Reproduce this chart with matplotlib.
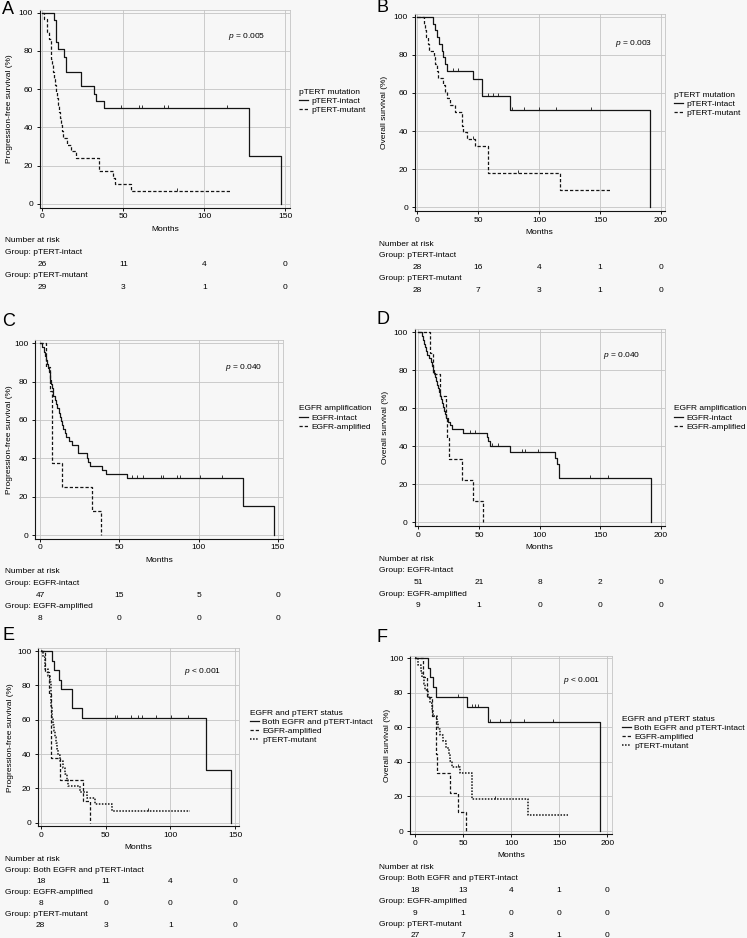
import numpy as np
import matplotlib
matplotlib.use("Agg")
import matplotlib.pyplot as plt
from matplotlib.path import Path
from matplotlib.transforms import blended_transform_factory

plt.rcParams["font.family"] = ["Liberation Sans", "DejaVu Sans"]
plt.rcParams["font.size"] = 6
plt.rcParams["mathtext.fontset"] = "custom"
plt.rcParams["mathtext.it"] = "Liberation Sans:italic"
plt.rcParams["mathtext.rm"] = "Liberation Sans"

# ---------------- data (months, survival %) ----------------
# A: progression-free survival by pTERT
a_int_t = [0, 7.4, 8.5, 9.9, 13.4, 14.6, 23.7, 32.1, 33.1, 38.1, 127.8, 147.3]
a_int_s = [100, 96.2, 84.6, 80.8, 76.9, 69.2, 61.5, 57.7, 53.8, 50.0, 25.0, 0]
a_int_c = [48.6, 59.9, 61.7, 75.3, 77.4, 113.8]
a_mut_t = [0, 1.2, 2.7, 4.3, 5.2, 5.6, 6.0, 6.4, 7.0, 7.6, 8.2, 8.8, 9.4, 10.0, 10.8, 11.6,
           12.2, 13.0, 15.0, 17.9, 20.8, 35.2, 43.6, 45.0, 54.7, 115.8]
a_mut_s = [100, 96.6, 89.7, 86.2, 82.8, 75.9, 72.4, 69.0, 65.5, 62.1, 58.6, 55.2, 51.7, 48.3, 44.8, 41.4,
           37.9, 34.5, 31.0, 27.6, 24.1, 17.2, 13.8, 10.3, 6.9, 6.9]
a_mut_c = [83.0]

# B: overall survival by pTERT
b_int_t = [0, 13.1, 14.5, 16.1, 17.8, 19.9, 21.3, 22.7, 24.0, 45.9, 53.3, 76.0, 191.0]
b_int_s = [100, 96.4, 92.9, 89.3, 85.7, 82.1, 78.6, 75.0, 71.4, 67.3, 58.3, 51.0, 0]
b_int_c = [29.5, 33.6, 58.0, 62.0, 66.0, 78.0, 88.0, 100.0, 113.7, 143.0]
b_mut_t = [0, 5.7, 6.3, 7.5, 8.5, 9.6, 13.4, 14.8, 16.0, 17.2, 21.3, 22.7, 24.6, 26.8, 30.9, 36.3,
           37.0, 37.6, 40.4, 47.3, 58.2, 117.5, 158.0]
b_mut_s = [100, 96.4, 92.9, 89.3, 85.7, 82.1, 78.6, 75.0, 71.4, 67.9, 64.3, 60.7, 57.1, 53.6, 50.0, 46.4,
           42.9, 39.3, 35.7, 31.9, 18.2, 9.1, 9.1]
b_mut_c = [45.9, 82.8]

# C: progression-free survival by EGFR
c_int_t = [0, 1.0, 2.5, 3.2, 3.8, 4.4, 5.0, 5.5, 6.0, 6.4, 6.9, 7.4, 7.9, 8.4, 9.5, 10.2, 10.9, 11.8,
           12.6, 13.3, 14.0, 14.7, 15.6, 16.6, 18.5, 20.2, 24.2, 29.8, 30.5, 31.5, 38.9, 41.6, 54.6,
           128.0, 147.5]
c_int_s = [100, 97.9, 95.7, 93.6, 91.5, 89.4, 87.2, 85.1, 83.0, 80.9, 78.7, 76.6, 74.5, 72.3, 70.2, 68.1,
           66.0, 63.8, 61.7, 59.6, 57.4, 55.3, 53.2, 51.1, 48.9, 46.8, 42.6, 40.4, 38.3, 36.2, 34.0, 31.9,
           29.8, 14.9, 0]
c_int_c = [57.8, 60.9, 65.1, 76.3, 77.7, 86.1, 88.2, 100.8, 114.5]
c_amp_t = [0, 3.6, 6.3, 7.8, 13.7, 33.0, 38.2]
c_amp_s = [100, 87.5, 75.0, 37.5, 25.0, 12.5, 0]
c_amp_c = []

# D: overall survival by EGFR
d_int_t = [0, 2.7, 3.6, 4.7, 5.5, 6.6, 7.4, 8.8, 10.2, 11.5, 12.4, 13.2, 14.0, 14.8, 15.7, 16.5, 17.2,
           17.9, 18.6, 19.2, 20.2, 21.2, 21.9, 22.5, 24.7, 26.0, 28.0, 37.1, 56.3, 57.7, 59.0, 75.5,
           112.6, 114.0, 116.2, 191.8]
d_int_s = [100, 98.0, 96.1, 94.1, 92.2, 90.2, 88.2, 86.3, 84.3, 82.4, 80.4, 78.4, 76.5, 74.5, 72.5, 70.6,
           68.6, 66.7, 64.7, 62.7, 60.8, 58.8, 56.9, 54.9, 52.9, 51.0, 49.0, 47.0, 44.9, 42.8, 40.1, 37.1,
           34.0, 30.9, 23.2, 0]
d_int_c = [42.6, 46.7, 61.0, 65.4, 85.2, 87.9, 98.9, 141.5, 156.6]
d_amp_t = [0, 9.6, 12.4, 17.9, 22.8, 23.5, 25.3, 36.3, 45.3, 53.6]
d_amp_s = [100, 88.9, 77.8, 66.7, 55.6, 44.4, 33.3, 22.2, 11.1, 0]
d_amp_c = []

# E: progression-free survival by combined status
e_both_t = [0, 8.5, 10.5, 14.4, 15.4, 23.8, 31.5, 127.7, 146.9]
e_both_s = [100, 94.4, 88.9, 83.3, 77.8, 66.7, 61.1, 30.6, 0]
e_both_c = [57.2, 59.0, 70.0, 75.1, 78.2, 88.7, 100.8, 113.6]
e_amp_t = [0, 3.6, 6.3, 7.7, 14.9, 32.8, 38.0]
e_amp_s = [100, 87.5, 75.0, 37.5, 25.0, 12.5, 0]
e_amp_c = []
e_mut_t = [0, 1.5, 3.3, 6.0, 7.0, 7.7, 8.3, 9.0, 9.6, 10.3, 11.0, 11.8, 12.6, 13.6, 14.9, 16.9, 18.7,
           20.2, 21.3, 30.3, 35.4, 41.8, 54.6, 114.9]
e_mut_s = [100, 96.4, 89.3, 85.7, 82.1, 75.0, 67.9, 60.7, 57.1, 53.6, 50.0, 46.4, 42.9, 39.3, 35.7, 32.1,
           28.6, 25.0, 21.4, 17.9, 14.3, 10.7, 7.1, 7.1]
e_mut_c = [82.8]

# F: overall survival by combined status
f_both_t = [0, 13.9, 15.6, 19.1, 21.8, 53.7, 76.3, 192.0]
f_both_s = [100, 94.4, 88.9, 83.3, 77.8, 71.6, 62.9, 0]
f_both_c = [44.8, 58.9, 62.4, 65.9, 78.0, 88.4, 98.8, 113.7, 143.8]
f_amp_t = [0, 8.6, 12.0, 17.2, 21.5, 22.0, 22.4, 36.2, 44.8, 53.4]
f_amp_s = [100, 88.9, 77.8, 66.7, 55.6, 44.4, 33.3, 22.2, 11.1, 0]
f_amp_c = []
f_mut_t = [0, 3.4, 6.0, 7.5, 9.0, 10.5, 13.9, 16.0, 17.5, 19.1, 22.5, 24.3, 26.0, 28.9, 31.8, 35.5,
           36.5, 38.5, 46.8, 58.9, 117.9, 159.4]
f_mut_s = [100, 96.3, 92.6, 88.9, 85.2, 81.5, 77.8, 74.1, 70.4, 66.7, 63.0, 59.3, 55.6, 51.9, 48.1, 44.4,
           40.7, 37.0, 33.3, 18.5, 9.3, 9.3]
f_mut_c = [44.4, 83.2]

# number at risk tables
ticks150 = [0, 50, 100, 150]
ticks200 = [0, 50, 100, 150, 200]
pterm_groups = ["pTERT-intact", "pTERT-mutant"]
egfr_groups = ["EGFR-intact", "EGFR-amplified"]
combo_groups = ["Both EGFR and pTERT-intact", "EGFR-amplified", "pTERT-mutant"]
a_risk = [[26, 11, 4, 0], [29, 3, 1, 0]]
b_risk = [[28, 16, 4, 1, 0], [28, 7, 3, 1, 0]]
c_risk = [[47, 15, 5, 0], [8, 0, 0, 0]]
d_risk = [[51, 21, 8, 2, 0], [9, 1, 0, 0, 0]]
e_risk = [[18, 11, 4, 0], [8, 0, 0, 0], [28, 3, 1, 0]]
f_risk = [[18, 13, 4, 1, 0], [9, 1, 0, 0, 0], [27, 7, 3, 1, 0]]

# ---------------- figure ----------------
W, H = 747, 938
BG = "#f7f7f7"
GRID = "#c4c4c4"
INK = "#141414"
fig = plt.figure(figsize=(W / 100, H / 100), dpi=100, facecolor=BG)

CENSOR = Path([(0, 0), (0, 1)])   # short upward tick
STYLES = {"solid": "-", "dashed": (0, (2.6, 1.6)), "dotted": (0, (1.0, 1.0))}
PFS = "Progression-free survival (%)"
OS = "Overall survival (%)"


def fy(ypx):
    return 1 - ypx / H


def make_panel(x0, sx, y0, sy, xlim, xticks):
    # x0/y0 = pixel of data zero, sx/sy = pixels per unit
    ylim = (-2, 101.5)
    left, right = x0 + xlim[0] * sx, x0 + xlim[1] * sx
    top, bottom = y0 - ylim[1] * sy, y0 - ylim[0] * sy
    ax = fig.add_axes([left / W, 1 - bottom / H, (right - left) / W, (bottom - top) / H])
    ax.set_facecolor(BG)
    ax.set_xlim(*xlim)
    ax.set_ylim(*ylim)
    ax.set_xticks(xticks)
    ax.set_yticks(range(0, 101, 20))
    ax.grid(True, color=GRID, lw=0.6)
    ax.set_axisbelow(True)
    for side in ("top", "right"):
        ax.spines[side].set_color(GRID)
        ax.spines[side].set_linewidth(0.6)
    for side in ("left", "bottom"):
        ax.spines[side].set_color(INK)
        ax.spines[side].set_linewidth(0.8)
    ax.tick_params(length=2.5, width=0.7, color=INK, labelsize=6, pad=1.5)
    ax.tick_params(axis="y", pad=2.5)
    ax.geom = (left, top, right - left, bottom - top)
    return ax


def km(ax, t, s, cens, style):
    lw = 1.1 if style == "dotted" else 0.9
    line, = ax.step(t, s, where="post", color=INK, lw=lw, linestyle=STYLES[style])
    if cens:
        t, s = np.asarray(t), np.asarray(s)
        cy = s[np.searchsorted(t, cens, side="right") - 1]
        ax.plot(cens, cy, ls="none", marker=CENSOR, ms=5, mec=INK, mew=0.6)
    return line


def labels(ax, ylabel, ylab_x, letter, lx, ly, ptext, pxy):
    left, top, w, h = ax.geom
    ax.set_xlabel("Months", fontsize=6)
    ax.xaxis.set_label_coords(0.5, -21.5 / h)
    ax.xaxis.label.set_va("center")
    ax.set_ylabel(ylabel, fontsize=6)
    ax.yaxis.set_label_coords((ylab_x - left) / w, 0.5)
    ax.yaxis.label.set_va("center")
    fig.text(lx / W, fy(ly), letter, fontsize=13, ha="left", va="center")
    ax.text(pxy[0], pxy[1], r"$p$ " + ptext, ha="left", va="center", fontsize=6)


def legend(ax, lines, names, title, lx, ly):
    ax.legend(lines, names, title=title, loc="upper left",
              bbox_to_anchor=(lx / W, fy(ly - 4.5)), bbox_transform=fig.transFigure,
              frameon=False, fontsize=6, title_fontsize=6, alignment="left",
              borderpad=0, borderaxespad=0, handlelength=1.1, handletextpad=0.4,
              labelspacing=0.15)


def risk_table(ax, gx, groups, counts, ticks, step):
    left, top, w, h = ax.geom
    ybot = top + h
    tr = blended_transform_factory(ax.transData, fig.transFigure)
    fig.text(gx / W, fy(ybot + 33), "Number at risk", va="center", fontsize=6)
    for i, (g, row) in enumerate(zip(groups, counts)):
        yg = ybot + 33 + step * (2 * i + 1)
        fig.text(gx / W, fy(yg), "Group: " + g, va="center", fontsize=6)
        for x, n in zip(ticks, row):
            ax.text(x, fy(yg + step), str(n), transform=tr, ha="center", va="center",
                    fontsize=6, clip_on=False)


# A
ax = make_panel(42.3, 1.62, 204.0, 1.913, (-1.5, 153), ticks150)
l1 = km(ax, a_int_t, a_int_s, a_int_c, "solid")
l2 = km(ax, a_mut_t, a_mut_s, a_mut_c, "dashed")
labels(ax, PFS, 10, "A", 2, 10, "= 0.005", (114.6, 87.3))
legend(ax, [l1, l2], pterm_groups, "pTERT mutation", 299, 93.3)
risk_table(ax, 5, pterm_groups, a_risk, ticks150, 11.7)

# B
ax = make_panel(417.3, 1.218, 207.3, 1.906, (-2, 203), ticks200)
l1 = km(ax, b_int_t, b_int_s, b_int_c, "solid")
l2 = km(ax, b_mut_t, b_mut_s, b_mut_c, "dashed")
labels(ax, OS, 385, "B", 377, 8, "= 0.003", (162, 86.2))
legend(ax, [l1, l2], pterm_groups, "pTERT mutation", 674, 96.5)
risk_table(ax, 379, pterm_groups, b_risk, ticks200, 11.6)

# C
ax = make_panel(40.0, 1.586, 535.0, 1.917, (-3, 153), ticks150)
l1 = km(ax, c_int_t, c_int_s, c_int_c, "solid")
l2 = km(ax, c_amp_t, c_amp_s, c_amp_c, "dashed")
labels(ax, PFS, 10, "C", 2, 322, "= 0.040", (116.6, 87.6))
legend(ax, [l1, l2], egfr_groups, "EGFR amplification", 299, 410)
risk_table(ax, 5, egfr_groups, c_risk, ticks150, 11.7)

# D
ax = make_panel(418.3, 1.213, 522.3, 1.90, (-3, 203), ticks200)
l1 = km(ax, d_int_t, d_int_s, d_int_c, "solid")
l2 = km(ax, d_amp_t, d_amp_s, d_amp_c, "dashed")
labels(ax, OS, 385, "D", 377, 320, "= 0.040", (152, 88))
legend(ax, [l1, l2], egfr_groups, "EGFR amplification", 674, 410)
risk_table(ax, 379, egfr_groups, d_risk, ticks200, 11.7)

# E
ax = make_panel(40.7, 1.297, 822.7, 1.717, (-2, 153), ticks150)
l1 = km(ax, e_both_t, e_both_s, e_both_c, "solid")
l2 = km(ax, e_amp_t, e_amp_s, e_amp_c, "dashed")
l3 = km(ax, e_mut_t, e_mut_s, e_mut_c, "dotted")
labels(ax, PFS, 11, "E", 2, 635, "< 0.001", (110.5, 87.8))
legend(ax, [l1, l2, l3], combo_groups, "EGFR and pTERT status", 250, 714)
risk_table(ax, 5, combo_groups, e_risk, ticks150, 11.1)

# F
ax = make_panel(415.0, 0.961, 831.0, 1.727, (-5, 205), ticks200)
l1 = km(ax, f_both_t, f_both_s, f_both_c, "solid")
l2 = km(ax, f_amp_t, f_amp_s, f_amp_c, "dashed")
l3 = km(ax, f_mut_t, f_mut_s, f_mut_c, "dotted")
labels(ax, OS, 387, "F", 377, 637, "< 0.001", (154, 87.4))
legend(ax, [l1, l2, l3], combo_groups, "EGFR and pTERT status", 622, 720)
risk_table(ax, 379, combo_groups, f_risk, ticks200, 11.4)

fig.savefig("out.png", dpi=100, facecolor=BG)
